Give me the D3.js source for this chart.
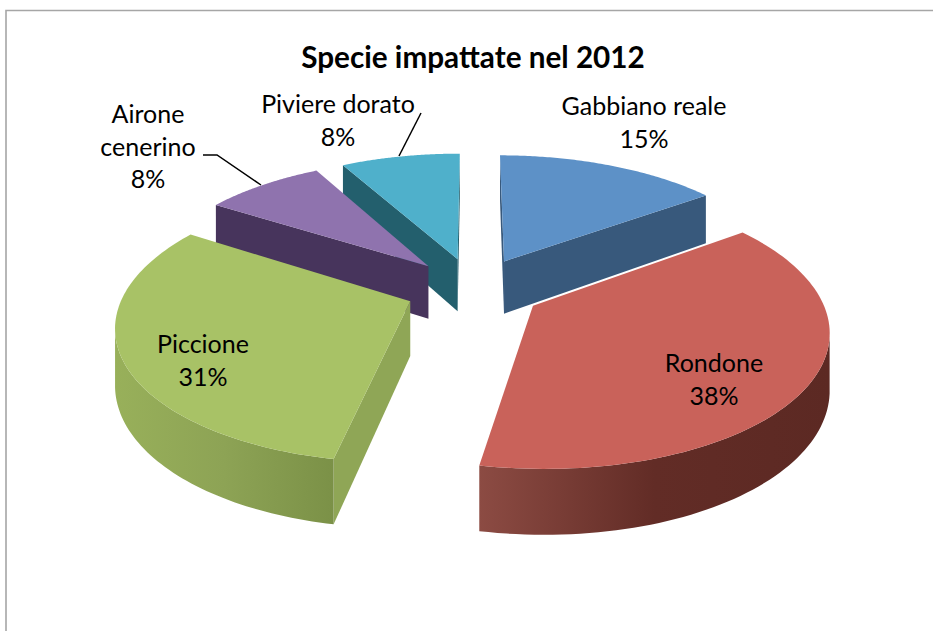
<!DOCTYPE html>
<html><head><meta charset="utf-8">
<script src="https://cdn.jsdelivr.net/npm/d3@7"></script>
<style>html,body{margin:0;padding:0;background:#fff}svg{display:block}text{font-family:Lato,"Open Sans",sans-serif;fill:#000}</style>
</head><body><svg id="c" width="933" height="631"></svg>
<script>
const chartTitle = "Specie impattate nel 2012";
const categories = ["Gabbiano reale","Rondone","Piccione","Airone cenerino","Piviere dorato"];
const shares = [15,38,31,8,8];
const topColors = ["#5d91c7","#c9625a","#a8c266","#8f73ae","#4fb0cb"];
const faceColors = ["#38597c","#5c2923","#8fa656","#47345c","#235f6d"];
const rimStops = [["#38597c","#38597c","#38597c"],["#8c4b43","#622c26","#5c2923"],["#98b05a","#8da355","#7b9147"],["#47345c","#47345c","#47345c"],["#235f6d","#235f6d","#235f6d"]];
const drawOrder = [4,0,3,2,1];

const svg = d3.select("#c");
const defs = svg.append("defs");
const cx=474, cy=288.5, Rx=285, Ry=131, persp=0.16, explode=0.24, H=54;
const xs = d3.scaleLinear().domain([-1,1]).range([-Rx,Rx]);
const ys = d3.scaleLinear().domain([-1,1]).range([Ry,-Ry]);
const wall = d3.scaleLinear().domain([0,1]).range([0,H]);
function proj(u,v,top){const s=1/(1+persp*v);return [cx+xs(u)*s, cy+ys(v)*s+(top?0:wall(1)*s)];}
const pie = d3.pie().sort(null).value(d=>d);
const arcs = pie(shares);
const line = d3.line();

svg.append("path").attr("d","M6,631V10.5H933").attr("fill","none").attr("stroke","#a6a6a6").attr("stroke-width",1.6);

const area=d3.polygonArea;
drawOrder.forEach(i=>{
  const a=arcs[i], m=(a.startAngle+a.endAngle)/2;
  const ou=explode*Math.sin(m), ov=explode*Math.cos(m);
  const pt=(t,r,top)=>proj(ou+r*Math.sin(t),ov+r*Math.cos(t),top);
  const g=svg.append("g");
  const face=t=>[pt(t,0,true),pt(t,1,true),pt(t,1,false),pt(t,0,false)];
  const qs=face(a.startAngle), qe=face(a.endAngle);
  if(area(qs)>0) g.append("path").attr("d",line(qs)+"Z").attr("fill",faceColors[i]);
  if(area(qe)<0) g.append("path").attr("d",line(qe)+"Z").attr("fill",faceColors[i]);
  const steps=d3.range(0,91).map(j=>a.startAngle+(a.endAngle-a.startAngle)*j/90);
  const vis=steps.filter((t,j)=>{
    const t1=j<90?steps[j+1]:t, t0=j>0?steps[j-1]:t;
    return area([pt(t0,1,true),pt(t1,1,true),pt(t1,1,false),pt(t0,1,false)])>0;
  });
  if(vis.length>1){
    const xe=d3.extent(vis,t=>pt(t,1,true)[0]);
    const id="rim"+i;
    const grad=defs.append("linearGradient").attr("id",id).attr("gradientUnits","userSpaceOnUse")
      .attr("x1",xe[0]).attr("x2",xe[1]).attr("y1",0).attr("y2",0);
    rimStops[i].forEach((c,j)=>grad.append("stop").attr("offset",i===1?[0,0.5,1][j]:[0,0.5,1][j]).attr("stop-color",c));
    const rimPts=[...vis.map(t=>pt(t,1,true)),...vis.slice().reverse().map(t=>pt(t,1,false))];
    g.append("path").attr("d",line(rimPts)+"Z").attr("fill","url(#"+id+")");
  }
  const topPts=[pt(0,0,true),...steps.map(t=>pt(t,1,true))];
  g.append("path").attr("d",line(topPts)+"Z").attr("fill",topColors[i]);
});

svg.append("path").attr("d","M421,113L399,156").attr("fill","none").attr("stroke","#000").attr("stroke-width",1.5);
svg.append("path").attr("d","M203,155H217L261,185").attr("fill","none").attr("stroke","#000").attr("stroke-width",1.5);

svg.append("text").attr("x",473).attr("y",68).attr("text-anchor","middle").attr("font-size",29.7).attr("font-weight",700).text(chartTitle);
const pct=shares.map(v=>v+"%");
const labelSpec=[[644,115,["Gabbiano reale",pct[0]]],[714,372,["Rondone",pct[1]]],[203,353,["Piccione",pct[2]]],[148,123,["Airone","cenerino",pct[3]]],[338,113,["Piviere dorato",pct[4]]]];
labelSpec.forEach(([x,y,lines])=>{
  lines.forEach((s,j)=>svg.append("text").attr("x",x).attr("y",y+j*32.5).attr("text-anchor","middle").attr("font-size",25).text(s));
});
</script></body></html>
